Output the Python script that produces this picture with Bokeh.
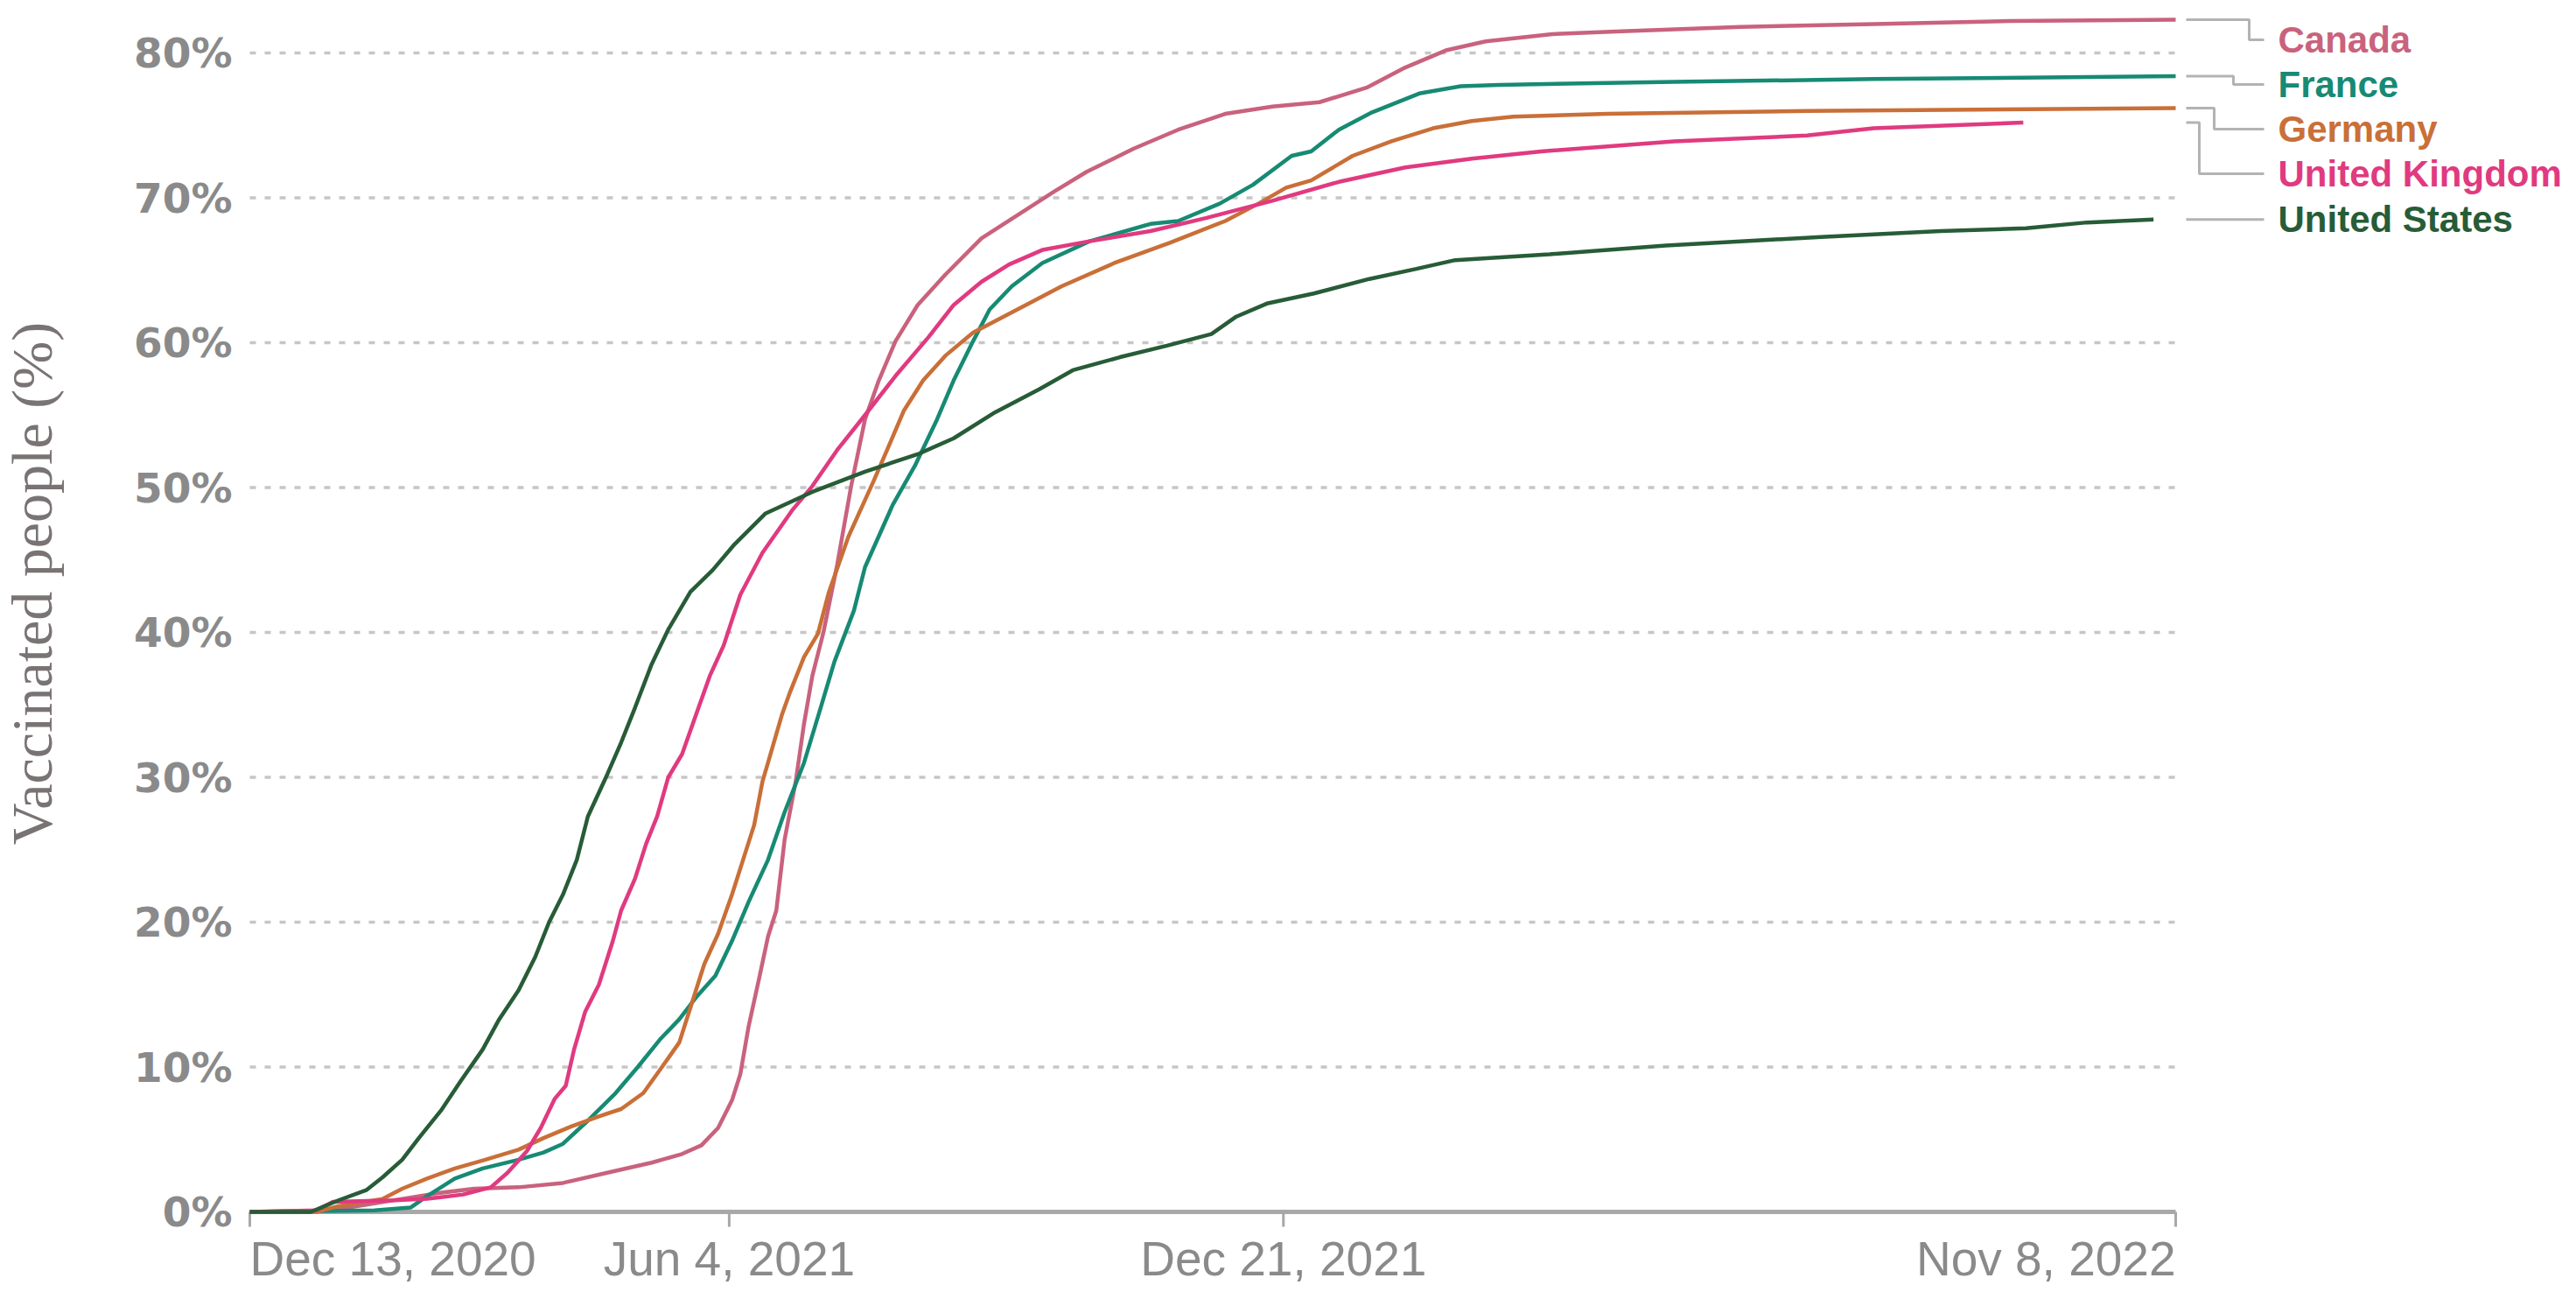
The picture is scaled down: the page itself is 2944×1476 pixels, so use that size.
import math
import pandas as pd
from bokeh.plotting import figure
from bokeh.models import Range1d
from bokeh.core.properties import value
from bokeh.embed import file_html
from bokeh.resources import INLINE

# ---------------- data ----------------
tick_dates = ["2020-12-13", "2021-06-04", "2021-12-21", "2022-11-08"]
tick_labels = ["Dec 13, 2020", "Jun 4, 2021", "Dec 21, 2021", "Nov 8, 2022"]
y_ticks = [0, 10, 20, 30, 40, 50, 60, 70, 80]
y_tick_labels = ["0%", "10%", "20%", "30%", "40%", "50%", "60%", "70%", "80%"]
y_title = "Vaccinated people (%)"
countries = ["Canada", "France", "Germany", "United Kingdom", "United States"]

canada_dates = ["2020-12-13", "2021-01-11", "2021-01-24", "2021-02-06", "2021-02-19", "2021-03-04",
                "2021-03-20", "2021-04-05", "2021-04-21", "2021-05-07", "2021-05-18", "2021-05-25",
                "2021-05-31", "2021-06-05", "2021-06-08", "2021-06-11", "2021-06-15", "2021-06-18",
                "2021-06-21", "2021-06-24", "2021-06-28", "2021-07-01", "2021-07-04", "2021-07-08",
                "2021-07-13", "2021-07-18", "2021-07-23", "2021-07-28", "2021-08-03", "2021-08-11",
                "2021-08-21", "2021-09-03", "2021-09-16", "2021-09-29", "2021-10-11", "2021-10-28",
                "2021-11-13", "2021-11-30", "2021-12-17", "2022-01-03", "2022-01-20", "2022-02-03",
                "2022-02-18", "2022-03-04", "2022-03-28", "2022-04-22", "2022-06-04", "2022-07-22",
                "2022-09-09", "2022-11-08"]
canada_values = [0, 0.1, 0.5, 0.9, 1.3, 1.6, 1.7, 2.0, 2.7, 3.4, 4.0, 4.6, 5.8, 7.7, 9.5, 12.8,
                 16.3, 19.0, 20.8, 25.7, 29.7, 33.7, 37.0, 40.0, 44.7, 50.1, 54.7, 57.4, 60.1, 62.6,
                 64.7, 67.2, 68.8, 70.4, 71.8, 73.4, 74.7, 75.8, 76.3, 76.6, 77.6, 79.0, 80.2, 80.8,
                 81.3, 81.5, 81.8, 82.0, 82.2, 82.3]

france_dates = ["2020-12-13", "2021-01-27", "2021-02-09", "2021-02-15", "2021-02-25", "2021-03-07",
                "2021-03-20", "2021-03-29", "2021-04-05", "2021-04-14", "2021-04-24", "2021-05-02",
                "2021-05-10", "2021-05-17", "2021-05-23", "2021-05-30", "2021-06-05", "2021-06-11",
                "2021-06-18", "2021-06-24", "2021-07-01", "2021-07-07", "2021-07-12", "2021-07-19",
                "2021-07-23", "2021-08-02", "2021-08-10", "2021-08-18", "2021-08-24", "2021-08-31",
                "2021-09-06", "2021-09-14", "2021-09-25", "2021-10-12", "2021-11-03", "2021-11-13",
                "2021-11-28", "2021-12-10", "2021-12-24", "2021-12-31", "2022-01-10", "2022-01-22",
                "2022-02-08", "2022-02-23", "2022-03-09", "2022-05-11", "2022-07-22", "2022-11-08"]
france_values = [0, 0.1, 0.3, 1.1, 2.3, 3.0, 3.6, 4.1, 4.7, 6.3, 8.2, 10.0, 11.9, 13.3, 14.8, 16.3,
                 18.7, 21.4, 24.3, 27.6, 31.0, 34.8, 38.0, 41.5, 44.5, 48.8, 51.5, 54.7, 57.4, 60.1,
                 62.3, 63.9, 65.5, 67.0, 68.2, 68.4, 69.6, 70.9, 72.9, 73.2, 74.7, 75.9, 77.2, 77.7,
                 77.8, 78.0, 78.2, 78.4]

germany_dates = ["2020-12-13", "2021-01-06", "2021-01-14", "2021-01-30", "2021-02-06", "2021-02-15",
                 "2021-02-25", "2021-03-08", "2021-03-20", "2021-03-29", "2021-04-08", "2021-04-18",
                 "2021-04-26", "2021-05-04", "2021-05-10", "2021-05-17", "2021-05-22", "2021-05-26",
                 "2021-05-31", "2021-06-05", "2021-06-10", "2021-06-13", "2021-06-16", "2021-06-18",
                 "2021-06-23", "2021-06-26", "2021-07-01", "2021-07-06", "2021-07-10", "2021-07-17",
                 "2021-07-26", "2021-07-31", "2021-08-06", "2021-08-13", "2021-08-21", "2021-08-31",
                 "2021-09-13", "2021-10-02", "2021-10-21", "2021-11-10", "2021-11-30", "2021-12-12",
                 "2021-12-22", "2021-12-31", "2022-01-15", "2022-01-29", "2022-02-13", "2022-02-27",
                 "2022-03-14", "2022-04-17", "2022-06-28", "2022-11-08"]
germany_values = [0, 0, 0.4, 0.9, 1.6, 2.3, 3.0, 3.6, 4.3, 5.1, 5.9, 6.6, 7.1, 8.2, 9.8, 11.7,
                  14.7, 17.1, 19.2, 21.9, 24.9, 26.7, 29.7, 31.0, 34.3, 35.9, 38.3, 39.9, 42.8, 46.6,
                  50.4, 52.6, 55.3, 57.4, 59.1, 60.7, 62.0, 63.9, 65.5, 66.9, 68.4, 69.6, 70.7, 71.2,
                  72.9, 73.9, 74.8, 75.3, 75.6, 75.8, 76.0, 76.2]

uk_dates = ["2020-12-13", "2021-01-06", "2021-01-12", "2021-02-03", "2021-02-15", "2021-02-28",
            "2021-03-10", "2021-03-16", "2021-03-23", "2021-03-28", "2021-04-02", "2021-04-06",
            "2021-04-09", "2021-04-13", "2021-04-18", "2021-04-23", "2021-04-26", "2021-05-01",
            "2021-05-05", "2021-05-09", "2021-05-13", "2021-05-18", "2021-05-23", "2021-05-28",
            "2021-06-02", "2021-06-08", "2021-06-16", "2021-06-27", "2021-07-04", "2021-07-13",
            "2021-07-23", "2021-08-03", "2021-08-15", "2021-08-24", "2021-09-03", "2021-09-13",
            "2021-09-25", "2021-10-12", "2021-11-03", "2021-11-23", "2021-12-17", "2022-01-10",
            "2022-02-03", "2022-02-27", "2022-03-24", "2022-05-11", "2022-06-28", "2022-07-22",
            "2022-09-14"]
uk_values = [0, 0.1, 0.7, 0.8, 0.9, 1.2, 1.7, 2.7, 4.2, 5.8, 7.8, 8.7, 11.2, 13.8, 15.7, 18.7,
             20.8, 23.0, 25.4, 27.3, 30.0, 31.6, 34.3, 37.0, 39.1, 42.6, 45.5, 48.5, 50.1, 52.6,
             55.0, 57.7, 60.4, 62.6, 64.2, 65.4, 66.4, 67.0, 67.7, 68.6, 69.8, 71.1, 72.1, 72.7,
             73.2, 73.9, 74.3, 74.8, 75.2]

us_dates = ["2020-12-13", "2021-01-04", "2021-01-14", "2021-01-24", "2021-01-30", "2021-02-06",
            "2021-02-12", "2021-02-20", "2021-02-27", "2021-03-07", "2021-03-13", "2021-03-20",
            "2021-03-26", "2021-03-31", "2021-04-05", "2021-04-10", "2021-04-14", "2021-04-21",
            "2021-04-26", "2021-05-01", "2021-05-07", "2021-05-13", "2021-05-21", "2021-05-29",
            "2021-06-06", "2021-06-17", "2021-07-04", "2021-07-23", "2021-08-11", "2021-08-24",
            "2021-09-08", "2021-09-24", "2021-10-06", "2021-10-23", "2021-11-09", "2021-11-25",
            "2021-12-04", "2021-12-15", "2022-01-01", "2022-01-21", "2022-02-07", "2022-02-21",
            "2022-03-27", "2022-05-08", "2022-07-03", "2022-08-15", "2022-09-15", "2022-10-07",
            "2022-10-31"]
us_values = [0, 0, 0.8, 1.5, 2.4, 3.6, 5.1, 7.0, 9.0, 11.2, 13.3, 15.3, 17.6, 20.0, 21.9, 24.3,
             27.3, 30.2, 32.4, 34.8, 37.8, 40.2, 42.8, 44.3, 46.1, 48.2, 49.7, 51.1, 52.3, 53.4,
             55.2, 56.8, 58.1, 59.0, 59.8, 60.6, 61.8, 62.7, 63.4, 64.4, 65.1, 65.7, 66.1, 66.7,
             67.3, 67.7, 67.9, 68.3, 68.5]

series = {
    "Canada": (canada_dates, canada_values),
    "France": (france_dates, france_values),
    "Germany": (germany_dates, germany_values),
    "United Kingdom": (uk_dates, uk_values),
    "United States": (us_dates, us_values),
}

# ---------------- styles / layout ----------------
colors = {
    "Canada": "#c9627d",
    "France": "#178a74",
    "Germany": "#c96f38",
    "United Kingdom": "#e03a80",
    "United States": "#275c37",
}
W, H = 2936, 1468              # canvas
PLOT_L, PLOT_R = 285, 2486     # x pixel of first / last date
Y0_PX, Y80_PX = 1384, 60       # y pixel of 0% / 80%
GRAY_TXT = "#8a8a8a"
AXIS_GRAY = "#a8a8a8"
GRID_GRAY = "#c6c6c6"
SANS = value("Liberation Sans")


def ms(d):
    return pd.Timestamp(d).value / 1e6


x_start, x_end = ms(tick_dates[0]), ms(tick_dates[-1])
mpp = (x_end - x_start) / (PLOT_R - PLOT_L)          # ms per pixel
vpp = (y_ticks[-1] - y_ticks[0]) / (Y0_PX - Y80_PX)  # value per pixel

x_lo = x_start - PLOT_L * mpp
x_hi = x_start + (W - PLOT_L) * mpp
y_hi = y_ticks[-1] + Y80_PX * vpp
y_lo = y_ticks[0] - (H - Y0_PX) * vpp

p = figure(width=W, height=H, x_range=Range1d(x_lo, x_hi), y_range=Range1d(y_lo, y_hi),
           x_axis_location=None, y_axis_location=None,
           min_border=0, output_backend="svg", toolbar_location=None)
p.outline_line_color = None
p.grid.visible = False
p.background_fill_color = "white"
p.border_fill_color = "white"

# dotted horizontal grid (limited to the date span)
grid_vals = [t for t in y_ticks if t != 0]
p.segment(x0=[x_start] * len(grid_vals), y0=grid_vals, x1=[x_end] * len(grid_vals), y1=grid_vals,
          line_color=GRID_GRAY, line_width=3.5, line_dash="7 10")

# baseline + ticks
p.segment(x0=[x_start], y0=[0], x1=[x_end], y1=[0], line_color=AXIS_GRAY, line_width=5)
tick_ms = [ms(d) for d in tick_dates]
p.segment(x0=tick_ms, y0=[0] * len(tick_ms), x1=tick_ms, y1=[-17 * vpp] * len(tick_ms),
          line_color=AXIS_GRAY, line_width=3)

# x tick labels
XLAB_CENTER_PX = 1437
aligns = ["left", "center", "center", "right"]
for t_ms, lab, a in zip(tick_ms, tick_labels, aligns):
    p.text(x=[t_ms], y=[-(XLAB_CENTER_PX - Y0_PX) * vpp], text=[lab], text_align=a,
           text_baseline="middle", text_font=SANS, text_font_size="55px", text_color=GRAY_TXT)

# y tick labels
p.text(x=[x_start - 20 * mpp] * len(y_ticks), y=y_ticks, text=y_tick_labels,
       text_align="right", text_baseline="middle", text_font=value("DejaVu Sans"),
       text_font_style="bold", text_font_size="47px", text_color=GRAY_TXT)

# y title
TITLE_X_PX, TITLE_Y_PX = 36, 666
p.text(x=[x_start - (PLOT_L - TITLE_X_PX) * mpp], y=[(Y0_PX - TITLE_Y_PX) * vpp], text=[y_title],
       angle=math.pi / 2, text_align="center", text_baseline="middle",
       text_font=value("Liberation Serif"), text_font_size="66px", text_color="#7a7373")

# series lines
for name in countries:
    d, v = series[name]
    p.line(pd.to_datetime(d).map(lambda t: t.value / 1e6), v,
           line_color=colors[name], line_width=4.5)

# end labels with elbow connectors
order = sorted(countries, key=lambda c: -series[c][1][-1])
corner_px = {"Canada": 84, "France": 66, "Germany": 44, "United Kingdom": 27, "United States": None}
LABEL_TOP_PX, LABEL_GAP_PX = 45, 51
prev = None
for c in order:
    last = series[c][1][-1]
    ly = min(last, (Y0_PX - LABEL_TOP_PX) * vpp)
    if prev is not None:
        ly = min(ly, prev - LABEL_GAP_PX * vpp)
    prev = ly
    xs = x_end + 12 * mpp
    xe = x_end + 101 * mpp
    if corner_px[c] is None or abs(ly - last) < 0.3:
        px_, py_ = [xs, xe], [last, last]
    else:
        xc = x_end + corner_px[c] * mpp
        px_, py_ = [xs, xc, xc, xe], [last, last, ly, ly]
    p.line(px_, py_, line_color="#b3b3b3", line_width=3)
    p.text(x=[x_end + 117 * mpp], y=[ly], text=[c], text_align="left", text_baseline="middle",
           text_font=SANS, text_font_size="42px", text_font_style="bold", text_color=colors[c])

open("out.html", "w").write(file_html(p, INLINE))
